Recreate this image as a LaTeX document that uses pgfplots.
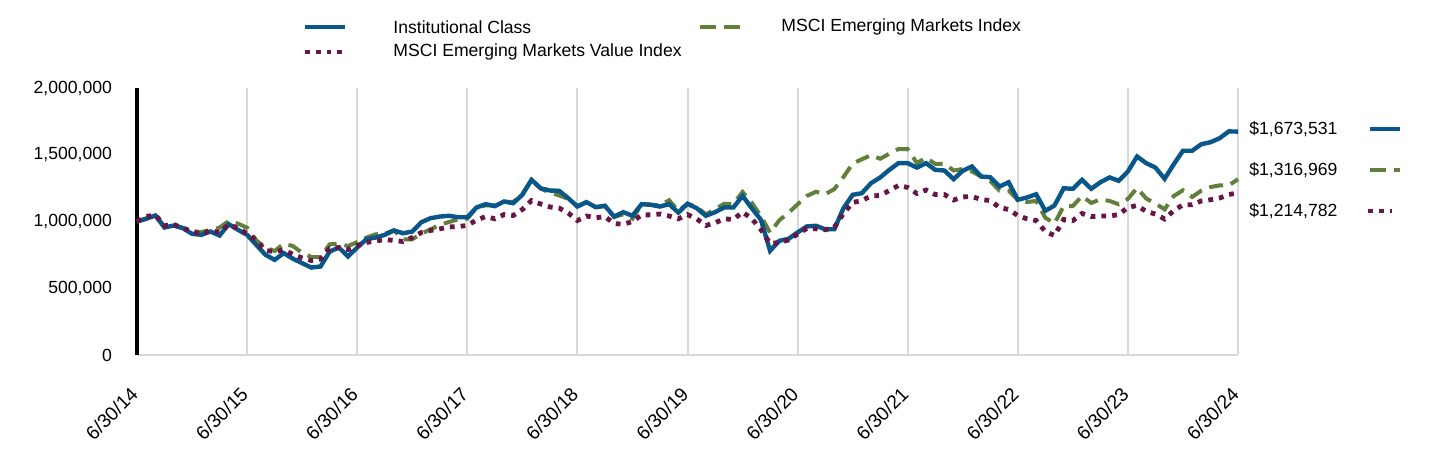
\documentclass[border=0pt]{standalone}
\usepackage{pgfplots}
\pgfplotsset{compat=1.18}
\usepackage{pgfplotstable}
\usepackage{fontspec}
\setmainfont{Liberation Sans}
\definecolor{cblue}{RGB}{8,86,138}
\definecolor{cgreen}{RGB}{98,128,58}
\definecolor{cpurple}{RGB}{104,22,72}
\definecolor{cgrid}{RGB}{217,217,217}
\pgfplotstableread{
m inst em emv
0 1000000 1000000 1000000
1 1020000 1024000 1037000
2 1045000 1049000 1049000
3 955000 959000 970000
4 970000 974000 978000
5 950000 951000 951000
6 908000 929000 925000
7 900000 921000 903000
8 925000 936000 933000
9 895000 954000 918000
10 980000 1004000 978000
11 938000 984000 948000
12 900000 954000 910000
13 825000 859000 858000
14 751000 804000 783000
15 713000 779000 775000
16 763000 834000 787000
17 721000 816000 753000
18 688000 766000 727000
19 655000 734000 708000
20 663000 734000 719000
21 775000 829000 798000
22 805000 834000 805000
23 738000 816000 790000
24 805000 846000 820000
25 867000 879000 843000
26 880000 904000 854000
27 900000 909000 865000
28 933000 934000 858000
29 912000 867000 850000
30 925000 867000 880000
31 995000 909000 918000
32 1025000 942000 933000
33 1037000 974000 945000
34 1043000 996000 959000
35 1032000 1016000 963000
36 1032000 1021000 970000
37 1105000 1103000 1011000
38 1130000 1121000 1037000
39 1115000 1121000 1020000
40 1150000 1148000 1052000
41 1137000 1146000 1045000
42 1200000 1206000 1090000
43 1312000 1311000 1157000
44 1249000 1247000 1131000
45 1232000 1216000 1109000
46 1230000 1196000 1101000
47 1175000 1169000 1064000
48 1112000 1116000 1007000
49 1145000 1146000 1041000
50 1107000 1109000 1028000
51 1118000 1116000 1037000
52 1037000 1034000 985000
53 1070000 1054000 979000
54 1043000 1021000 1000000
55 1130000 1131000 1049000
56 1125000 1127000 1050000
57 1112000 1120000 1056000
58 1130000 1159000 1041000
59 1067000 1079000 1020000
60 1133000 1133000 1052000
61 1100000 1109000 1020000
62 1043000 1054000 970000
63 1070000 1091000 990000
64 1105000 1133000 1020000
65 1105000 1133000 1015000
66 1192000 1221000 1071000
67 1100000 1141000 1022000
68 1013000 1041000 940000
69 781000 916000 835000
70 855000 1009000 843000
71 870000 1064000 861000
72 918000 1129000 906000
73 963000 1191000 948000
74 968000 1223000 945000
75 942000 1204000 938000
76 942000 1243000 957000
77 1100000 1333000 1060000
78 1200000 1434000 1142000
79 1212000 1466000 1157000
80 1287000 1497000 1191000
81 1330000 1470000 1195000
82 1387000 1508000 1232000
83 1437000 1543000 1270000
84 1437000 1543000 1255000
85 1404000 1438000 1210000
86 1437000 1478000 1236000
87 1387000 1431000 1202000
88 1382000 1433000 1202000
89 1317000 1382000 1161000
90 1380000 1393000 1184000
91 1412000 1375000 1187000
92 1337000 1337000 1165000
93 1332000 1303000 1157000
94 1262000 1232000 1105000
95 1294000 1232000 1090000
96 1163000 1161000 1045000
97 1180000 1146000 1020000
98 1204000 1154000 1007000
99 1080000 1028000 925000
100 1120000 985000 895000
101 1249000 1116000 1015000
102 1245000 1116000 1007000
103 1312000 1191000 1060000
104 1245000 1139000 1037000
105 1294000 1166000 1041000
106 1330000 1154000 1041000
107 1305000 1129000 1052000
108 1375000 1170000 1105000
109 1487000 1251000 1120000
110 1437000 1172000 1075000
111 1404000 1135000 1056000
112 1320000 1091000 1019000
113 1429000 1191000 1082000
114 1530000 1234000 1125000
115 1530000 1184000 1125000
116 1579000 1231000 1154000
117 1594000 1258000 1163000
118 1624000 1271000 1176000
119 1675000 1271000 1202000
120 1673531 1316969 1214782
}\datatable
\begin{document}
\begin{tikzpicture}[font=\fontsize{8.8pt}{10.5pt}\selectfont]
\path[use as bounding box] (-68.5pt,-56.5pt) rectangle (651.5pt,177.5pt);
\begin{axis}[
  at={(0pt,0pt)}, anchor=south west,
  scale only axis,
  width=550.5pt, height=133.5pt,
  xmin=0, xmax=120, ymin=0, ymax=2000000,
  xtick={0,12,24,36,48,60,72,84,96,108,120},
  xticklabels={6/30/14,6/30/15,6/30/16,6/30/17,6/30/18,6/30/19,6/30/20,6/30/21,6/30/22,6/30/23,6/30/24},
  ytick={0,500000,1000000,1500000,2000000},
  yticklabels={0,{500,000},{1,000,000},{1,500,000},{2,000,000}},
  scaled y ticks=false,
  xmajorgrids=true,
  grid style={cgrid, line width=1pt},
  major tick length=0pt,
  axis line style={draw=none},
  xticklabel style={rotate=45, anchor=north east, inner sep=1pt, yshift=-7pt, xshift=-12.5pt, font=\fontsize{9.6pt}{11pt}\selectfont},
  yticklabel style={xshift=-9pt, font=\fontsize{8.8pt}{10.5pt}\selectfont},
  clip=false,
]
\draw[cgrid, line width=1pt] (axis cs:0,0) -- (axis cs:120,0);
\draw[black, line width=1.6pt] (axis cs:0,0) -- (axis cs:0,2000000);
\addplot[cgreen, line width=2pt, dash pattern=on 7pt off 4pt, line cap=butt] table[x=m, y=em] {\datatable};
\addplot[cblue, line width=2.2pt, line join=miter] table[x=m, y=inst] {\datatable};
\addplot[cpurple, line width=2.4pt, dash pattern=on 2.4pt off 3pt, line cap=butt] table[x=m, y=emv] {\datatable};
\end{axis}
\begin{scope}[x=0.5pt, y=-0.5pt, shift={(-137,-355)}]
  % top legend
  \draw[cblue, line width=2pt] (305,27) -- (345,27);
  \node[anchor=west, inner sep=0pt] at (393,27) {Institutional Class};
  \draw[cgreen, line width=2pt, dash pattern=on 8pt off 4pt] (700,27) -- (746,27);
  \node[anchor=west, inner sep=0pt] at (781,27) {MSCI Emerging Markets Index};
  \draw[cpurple, line width=2.4pt, dash pattern=on 2.4pt off 3pt] (305,52) -- (346,52);
  \node[anchor=west, inner sep=0pt] at (393,52) {MSCI Emerging Markets Value Index};
  % right labels
  \node[anchor=west, inner sep=0pt] at (1249,129) {\$1,673,531};
  \draw[cblue, line width=2pt] (1370,129) -- (1400,129);
  \node[anchor=west, inner sep=0pt] at (1249,170) {\$1,316,969};
  \draw[cgreen, line width=2pt, dash pattern=on 8pt off 4pt] (1370,170) -- (1400,170);
  \node[anchor=west, inner sep=0pt] at (1249,211) {\$1,214,782};
  \draw[cpurple, line width=2.4pt, dash pattern=on 2.4pt off 3pt] (1368,211) -- (1392,211);
\end{scope}
\end{tikzpicture}
\end{document}
